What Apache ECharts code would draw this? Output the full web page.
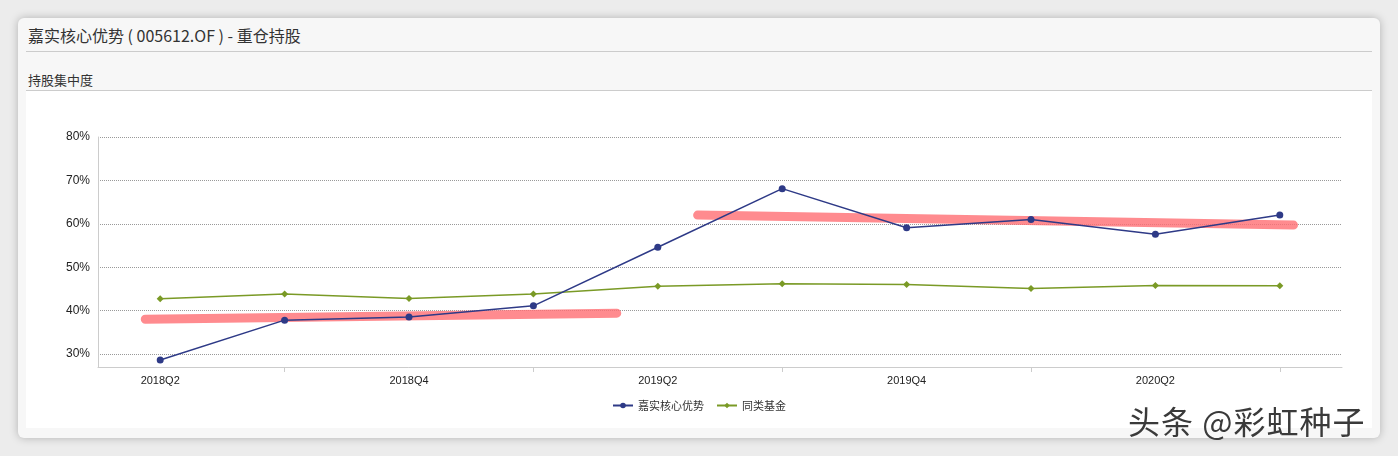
<!DOCTYPE html>
<html><head><meta charset="utf-8">
<script src="https://cdn.jsdelivr.net/npm/echarts@6/dist/echarts.min.js"></script>
<style>
body{margin:0;background:#ececec;font-family:"Noto Sans CJK SC",sans-serif;}
#card{position:absolute;left:18px;top:18px;width:1362px;height:420px;background:#f7f7f7;border-radius:6px;box-shadow:0 0 8px rgba(0,0,0,0.25);}
#t1{position:absolute;left:10px;top:5px;font-size:16px;color:#333;}
#l1{position:absolute;left:8px;right:8px;top:33px;border-top:1px solid #ccc;}
#t2{position:absolute;left:10px;top:52px;font-size:13px;color:#333;}
#l2{position:absolute;left:8px;right:8px;top:72px;border-top:1px solid #ccc;}
#white{position:absolute;left:8px;right:8px;top:73px;bottom:10px;background:#fff;}
#wm{position:absolute;left:1128px;top:397px;font-size:32px;color:#3a3a3a;z-index:5;letter-spacing:1px;}
#c{position:absolute;left:0;top:0;width:1398px;height:456px;}
</style></head><body>
<div id="card"><div id="white"></div><div id="t1">嘉实核心优势 ( 005612.OF ) - 重仓持股</div><div id="l1"></div><div id="t2">持股集中度</div><div id="l2"></div></div>
<div id="c"></div>
<div id="wm">头条 @彩虹种子</div>
<script>
const categories=['2018Q2','2018Q3','2018Q4','2019Q1','2019Q2','2019Q3','2019Q4','2020Q1','2020Q2','2020Q3'];
const fundValues=[28.6,37.8,38.5,41.1,54.6,68.1,59.1,61.0,57.6,62.0];
const peerValues=[42.7,43.8,42.8,43.8,45.6,46.2,46.0,45.1,45.8,45.7];
const yTicks=[30,40,50,60,70,80];
const xTickIdx=[1,3,5,7,9];
const highlight1=[[-0.12,38.0],[3.67,39.4]];
const highlight2=[[4.32,62.0],[9.11,59.7]];
const chart=echarts.init(document.getElementById('c'));
const hl={type:'line',xAxisIndex:1,symbol:'none',silent:true,z:1,
  lineStyle:{width:9,color:'rgba(255,110,115,0.8)',cap:'round'}};
chart.setOption({
  textStyle:{fontFamily:'Liberation Sans'},
  grid:{left:98,top:137,width:1244,height:230},
  legend:{bottom:40,left:'center',itemWidth:20,itemHeight:7,itemGap:12,
    textStyle:{fontSize:11,color:'#333',fontFamily:'Noto Sans CJK SC'},
    data:['嘉实核心优势','同类基金']},
  xAxis:[{type:'category',data:categories,
    axisLine:{lineStyle:{color:'#ccc'}},
    axisTick:{show:false},
    axisLabel:{interval:(i)=>i%2===0,color:'#222',fontSize:11,margin:8}},
   {type:'value',min:-0.5,max:9.5,position:'bottom',
    axisLine:{show:false},axisLabel:{show:false},splitLine:{show:false},
    axisTick:{show:true,customValues:xTickIdx,length:5,lineStyle:{color:'#ccc'}}}],
  yAxis:{type:'value',min:27,max:80,
    axisLabel:{customValues:yTicks,formatter:'{value}%',color:'#222',fontSize:12},
    axisTick:{show:false,customValues:yTicks},
    axisLine:{show:true,onZero:false,lineStyle:{color:'#ccc'}},
    splitLine:{show:true,lineStyle:{color:'#999',type:'dotted'}}},
  series:[
    Object.assign({data:highlight1},hl),
    Object.assign({data:highlight2},hl),
    {name:'嘉实核心优势',type:'line',data:fundValues,symbol:'circle',symbolSize:7,z:3,
      itemStyle:{color:'#2e3a87'},lineStyle:{width:1.5,color:'#2e3a87'}},
    {name:'同类基金',type:'line',data:peerValues,symbol:'diamond',symbolSize:7,z:2,
      itemStyle:{color:'#7a9a26'},lineStyle:{width:1.5,color:'#7a9a26'}}
  ]
});
</script></body></html>
